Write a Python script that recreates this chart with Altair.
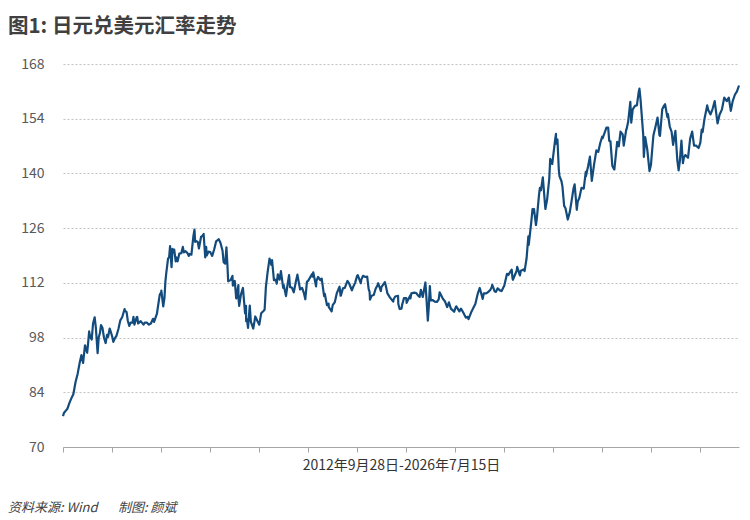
import altair as alt
import pandas as pd

title_text = "图1: 日元兑美元汇率走势"
axis_title = "2012年9月28日-2026年7月15日"
source_text = "资料来源: Wind"
maker_text = "制图: 颜斌"
y_ticks = [70, 84, 98, 112, 126, 140, 154, 168]
tick_years = list(range(2012, 2026))

usdjpy = [
    ("2012-09-28", 77.9), ("2012-10-05", 78.7), ("2012-10-19", 79.3), ("2012-10-31", 79.8),
    ("2012-11-15", 81.3), ("2012-11-30", 82.5), ("2012-12-14", 83.5), ("2012-12-31", 86.7),
    ("2013-01-15", 88.7), ("2013-01-31", 91.7), ("2013-02-12", 93.5), ("2013-02-25", 91.5),
    ("2013-02-28", 92.6), ("2013-03-11", 96.0), ("2013-03-27", 94.1), ("2013-04-04", 96.9),
    ("2013-04-11", 99.6), ("2013-04-18", 98.2), ("2013-04-30", 97.5), ("2013-05-10", 101.6),
    ("2013-05-22", 103.2), ("2013-05-31", 100.5), ("2013-06-13", 94.0), ("2013-06-21", 98.0),
    ("2013-06-30", 99.1), ("2013-07-08", 101.2), ("2013-07-19", 100.5), ("2013-07-31", 97.9),
    ("2013-08-12", 96.6), ("2013-08-22", 98.7), ("2013-08-30", 98.2), ("2013-09-11", 100.3),
    ("2013-09-19", 99.5), ("2013-09-30", 98.2), ("2013-10-08", 96.9), ("2013-10-22", 98.0),
    ("2013-10-31", 98.4), ("2013-11-15", 100.2), ("2013-11-29", 102.4), ("2013-12-13", 103.2),
    ("2013-12-31", 105.3),
    ("2014-01-02", 104.9), ("2014-01-15", 104.5), ("2014-01-24", 102.3), ("2014-02-04", 101.0),
    ("2014-02-14", 101.8), ("2014-02-28", 101.8), ("2014-03-07", 103.3), ("2014-03-14", 101.3),
    ("2014-03-31", 103.2), ("2014-04-04", 103.3), ("2014-04-11", 101.6), ("2014-04-30", 102.2),
    ("2014-05-21", 101.3), ("2014-05-30", 101.8), ("2014-06-16", 101.8), ("2014-06-30", 101.3),
    ("2014-07-15", 101.6), ("2014-07-31", 102.8), ("2014-08-08", 102.0), ("2014-08-29", 104.1),
    ("2014-09-19", 109.0), ("2014-09-30", 109.6), ("2014-10-01", 110.0), ("2014-10-15", 106.0),
    ("2014-10-24", 108.1), ("2014-10-31", 112.3), ("2014-11-07", 114.6), ("2014-11-20", 118.2),
    ("2014-11-28", 118.6), ("2014-12-05", 121.4), ("2014-12-16", 116.0), ("2014-12-23", 120.7),
    ("2014-12-31", 119.8),
    ("2015-01-05", 120.5), ("2015-01-16", 117.5), ("2015-01-22", 118.5), ("2015-01-30", 117.5),
    ("2015-02-12", 119.5), ("2015-02-27", 119.6), ("2015-03-10", 121.2), ("2015-03-18", 119.8),
    ("2015-03-31", 120.1), ("2015-04-14", 119.6), ("2015-04-24", 118.9), ("2015-04-30", 119.4),
    ("2015-05-13", 119.2), ("2015-05-28", 124.0), ("2015-06-05", 125.6), ("2015-06-10", 122.5),
    ("2015-06-19", 122.7), ("2015-06-30", 122.4), ("2015-07-08", 120.8), ("2015-07-24", 123.8),
    ("2015-07-31", 123.9), ("2015-08-12", 124.5), ("2015-08-24", 118.5), ("2015-08-31", 121.2),
    ("2015-09-04", 119.0), ("2015-09-18", 120.0), ("2015-09-30", 119.9), ("2015-10-15", 118.9),
    ("2015-10-30", 120.6), ("2015-11-13", 122.6), ("2015-11-30", 123.1), ("2015-12-02", 123.2),
    ("2015-12-16", 122.2), ("2015-12-31", 120.2),
    ("2016-01-08", 117.3), ("2016-01-20", 116.9), ("2016-01-29", 121.1), ("2016-02-05", 116.8),
    ("2016-02-11", 112.4), ("2016-02-29", 112.7), ("2016-03-14", 113.8), ("2016-03-17", 111.3),
    ("2016-03-31", 112.5), ("2016-04-11", 108.0), ("2016-04-27", 111.4), ("2016-04-28", 108.1),
    ("2016-05-03", 106.1), ("2016-05-16", 109.0), ("2016-05-31", 110.7), ("2016-06-16", 104.2),
    ("2016-06-23", 106.1), ("2016-06-24", 102.2), ("2016-06-30", 102.7), ("2016-07-08", 100.5),
    ("2016-07-21", 106.2), ("2016-07-29", 102.1), ("2016-08-16", 100.3), ("2016-08-31", 103.4),
    ("2016-09-15", 102.3), ("2016-09-30", 101.3), ("2016-10-14", 104.2), ("2016-10-31", 104.8),
    ("2016-11-08", 105.1), ("2016-11-09", 105.3), ("2016-11-18", 110.9), ("2016-11-30", 114.5),
    ("2016-12-15", 118.2), ("2016-12-29", 116.6), ("2016-12-30", 116.9),
    ("2017-01-03", 117.8), ("2017-01-17", 112.7), ("2017-01-31", 112.8), ("2017-02-07", 111.8),
    ("2017-02-15", 114.2), ("2017-02-28", 112.8), ("2017-03-10", 115.0), ("2017-03-27", 110.7),
    ("2017-03-31", 111.4), ("2017-04-17", 108.6), ("2017-04-28", 111.5), ("2017-05-10", 114.0),
    ("2017-05-17", 110.9), ("2017-05-31", 110.8), ("2017-06-14", 109.6), ("2017-06-30", 112.4),
    ("2017-07-11", 114.1), ("2017-07-31", 110.3), ("2017-08-15", 110.7), ("2017-08-29", 109.3),
    ("2017-09-08", 107.8), ("2017-09-20", 112.3), ("2017-09-29", 112.5), ("2017-10-27", 114.2),
    ("2017-10-31", 113.6), ("2017-11-06", 114.7), ("2017-11-27", 111.1), ("2017-11-30", 112.5),
    ("2017-12-12", 113.5), ("2017-12-29", 112.7),
    ("2018-01-08", 113.1), ("2018-01-26", 108.6), ("2018-01-31", 109.2), ("2018-02-16", 106.3),
    ("2018-02-28", 106.7), ("2018-03-02", 105.8), ("2018-03-23", 104.7), ("2018-03-31", 106.3),
    ("2018-04-16", 107.1), ("2018-04-30", 109.3), ("2018-05-21", 111.0), ("2018-05-29", 108.7),
    ("2018-05-31", 108.8), ("2018-06-15", 110.6), ("2018-06-29", 110.7), ("2018-07-19", 112.5),
    ("2018-07-31", 111.9), ("2018-08-21", 110.1), ("2018-08-31", 111.0), ("2018-09-14", 112.0),
    ("2018-09-28", 113.7), ("2018-10-04", 114.0), ("2018-10-26", 111.9), ("2018-10-31", 112.9),
    ("2018-11-12", 113.8), ("2018-11-30", 113.5), ("2018-12-13", 113.6), ("2018-12-24", 110.4),
    ("2018-12-31", 109.7),
    ("2019-01-03", 107.7), ("2019-01-15", 108.7), ("2019-01-31", 108.9), ("2019-02-14", 110.5),
    ("2019-02-28", 111.4), ("2019-03-05", 111.9), ("2019-03-25", 109.9), ("2019-03-29", 110.9),
    ("2019-04-24", 112.2), ("2019-04-30", 111.4), ("2019-05-13", 109.3), ("2019-05-31", 108.3),
    ("2019-06-25", 107.2), ("2019-06-28", 107.8), ("2019-07-10", 108.5), ("2019-07-31", 108.7),
    ("2019-08-02", 106.6), ("2019-08-12", 105.3), ("2019-08-26", 105.4), ("2019-08-30", 106.3),
    ("2019-09-13", 108.1), ("2019-09-30", 108.1), ("2019-10-03", 106.9), ("2019-10-30", 108.8),
    ("2019-10-31", 108.0), ("2019-11-07", 109.3), ("2019-11-29", 109.5), ("2019-12-13", 109.4),
    ("2019-12-31", 108.6),
    ("2020-01-08", 108.4), ("2020-01-17", 110.2), ("2020-01-31", 108.4), ("2020-02-20", 112.1),
    ("2020-02-28", 107.9), ("2020-03-09", 102.3), ("2020-03-16", 105.8), ("2020-03-24", 111.2),
    ("2020-03-31", 107.5), ("2020-04-15", 107.6), ("2020-04-30", 107.2), ("2020-05-15", 107.1),
    ("2020-05-29", 107.8), ("2020-06-05", 109.6), ("2020-06-30", 107.9), ("2020-07-14", 107.3),
    ("2020-07-31", 105.8), ("2020-08-13", 107.0), ("2020-08-28", 105.4), ("2020-09-21", 104.6),
    ("2020-09-30", 105.5), ("2020-10-07", 106.0), ("2020-10-30", 104.7), ("2020-11-11", 105.4),
    ("2020-11-30", 104.3), ("2020-12-17", 103.1), ("2020-12-31", 103.3),
    ("2021-01-06", 102.7), ("2021-01-29", 104.7), ("2021-02-17", 106.0), ("2021-02-26", 106.6),
    ("2021-03-15", 109.1), ("2021-03-31", 110.7), ("2021-04-22", 107.9), ("2021-04-30", 109.3),
    ("2021-05-17", 109.3), ("2021-05-31", 109.6), ("2021-06-18", 110.2), ("2021-06-30", 111.1),
    ("2021-07-02", 111.5), ("2021-07-20", 109.8), ("2021-07-30", 109.7), ("2021-08-11", 110.6),
    ("2021-08-31", 110.0), ("2021-09-10", 109.9), ("2021-09-30", 111.3), ("2021-10-20", 114.3),
    ("2021-10-29", 114.0), ("2021-11-24", 115.4), ("2021-11-30", 113.2), ("2021-12-03", 112.8),
    ("2021-12-31", 115.1),
    ("2022-01-04", 116.1), ("2022-01-24", 113.9), ("2022-01-31", 115.1), ("2022-02-24", 115.5),
    ("2022-02-28", 115.0), ("2022-03-15", 118.3), ("2022-03-28", 123.9), ("2022-03-31", 121.7),
    ("2022-04-20", 127.9), ("2022-04-28", 130.9), ("2022-04-29", 129.8), ("2022-05-09", 130.9),
    ("2022-05-24", 126.8), ("2022-05-31", 128.7), ("2022-06-15", 134.3), ("2022-06-22", 136.3),
    ("2022-06-30", 135.7), ("2022-07-14", 139.0), ("2022-08-02", 130.9), ("2022-08-15", 133.3),
    ("2022-08-31", 138.7), ("2022-09-07", 143.7), ("2022-09-22", 142.4), ("2022-09-30", 144.7),
    ("2022-10-14", 148.7), ("2022-10-20", 150.1), ("2022-10-21", 147.6), ("2022-10-31", 148.7),
    ("2022-11-10", 141.0), ("2022-11-15", 139.3), ("2022-11-30", 138.0), ("2022-12-07", 136.7),
    ("2022-12-20", 131.7), ("2022-12-30", 131.1),
    ("2023-01-16", 128.2), ("2023-01-31", 130.1), ("2023-02-14", 133.1), ("2023-02-28", 136.2),
    ("2023-03-08", 137.2), ("2023-03-24", 130.7), ("2023-03-31", 132.8), ("2023-04-12", 133.7),
    ("2023-04-28", 136.3), ("2023-05-15", 136.1), ("2023-05-30", 140.4), ("2023-05-31", 139.3),
    ("2023-06-16", 141.8), ("2023-06-30", 144.3), ("2023-07-14", 138.1), ("2023-07-31", 142.3),
    ("2023-08-17", 145.9), ("2023-08-31", 145.5), ("2023-09-15", 147.8), ("2023-09-29", 149.4),
    ("2023-10-03", 149.0), ("2023-10-31", 151.7), ("2023-11-13", 151.7), ("2023-11-21", 148.3),
    ("2023-11-30", 148.2), ("2023-12-14", 141.9), ("2023-12-28", 141.0), ("2023-12-29", 141.0),
    ("2024-01-19", 148.1), ("2024-01-31", 146.9), ("2024-02-13", 150.7), ("2024-02-29", 150.0),
    ("2024-03-08", 147.1), ("2024-03-27", 151.3), ("2024-03-29", 151.3), ("2024-04-10", 153.2),
    ("2024-04-26", 158.3), ("2024-04-29", 156.3), ("2024-05-03", 153.0), ("2024-05-14", 156.4),
    ("2024-05-31", 157.3), ("2024-06-14", 157.4), ("2024-06-28", 160.9), ("2024-07-03", 161.7),
    ("2024-07-11", 159.0), ("2024-07-31", 150.0), ("2024-08-05", 144.2), ("2024-08-15", 149.3),
    ("2024-08-30", 146.2), ("2024-09-16", 140.6), ("2024-09-27", 142.2), ("2024-09-30", 143.6),
    ("2024-10-15", 149.7), ("2024-10-31", 152.0), ("2024-11-15", 154.3), ("2024-11-29", 149.8),
    ("2024-12-03", 149.6), ("2024-12-20", 156.4), ("2024-12-31", 157.2),
    ("2025-01-10", 157.7), ("2025-01-27", 154.4), ("2025-01-31", 155.2), ("2025-02-14", 152.0),
    ("2025-02-28", 150.6), ("2025-03-11", 147.3), ("2025-03-28", 150.9), ("2025-04-11", 143.5),
    ("2025-04-21", 140.8), ("2025-04-30", 143.1), ("2025-05-12", 148.4), ("2025-05-23", 142.6),
    ("2025-05-30", 144.0), ("2025-06-10", 144.7), ("2025-06-30", 144.0), ("2025-07-16", 148.9),
    ("2025-07-31", 150.7), ("2025-08-14", 147.1), ("2025-08-29", 147.1), ("2025-09-17", 146.5),
    ("2025-09-30", 147.9), ("2025-10-10", 151.2), ("2025-10-17", 150.6), ("2025-10-31", 154.0),
    ("2025-11-20", 157.4), ("2025-11-28", 156.2), ("2025-12-15", 155.1), ("2025-12-31", 156.6),
    ("2026-01-15", 158.5), ("2026-02-05", 152.8), ("2026-02-20", 155.0), ("2026-03-10", 156.4),
    ("2026-03-27", 159.4), ("2026-04-15", 158.5), ("2026-04-30", 159.4), ("2026-05-15", 156.0),
    ("2026-05-29", 158.5), ("2026-06-15", 160.2), ("2026-06-30", 161.0), ("2026-07-15", 162.5),
]

df = pd.DataFrame(usdjpy, columns=["date", "rate"])

CJK = "Noto Sans CJK SC"
x_tick_values = [alt.DateTime(year=y, month=9, date=28, utc=True) for y in tick_years]
x_domain = [alt.DateTime(year=2012, month=9, date=28, utc=True),
            alt.DateTime(year=2026, month=7, date=15, utc=True)]

line = alt.Chart(df).mark_line(color="#134b7d", strokeWidth=2.2, strokeJoin="round").encode(
    x=alt.X("date:T",
            scale=alt.Scale(type="utc", domain=x_domain, nice=False),
            axis=alt.Axis(values=x_tick_values, labels=False, grid=False, ticks=True,
                          tickSize=5, tickColor="#a6a6a6", domainColor="#a6a6a6",
                          domainWidth=1, title=axis_title, titleFont=CJK,
                          titleFontSize=14, titleFontWeight="normal",
                          titleColor="#333333", titlePadding=6)),
    y=alt.Y("rate:Q",
            scale=alt.Scale(domain=[70, 168], nice=False, zero=False),
            axis=alt.Axis(values=y_ticks, grid=True, gridDash=[2, 2], gridColor="#c4c4c4",
                          gridWidth=1, domain=False, ticks=False, labelPadding=19,
                          labelFontSize=14, labelFont=CJK, labelColor="#595959",
                          title=None)),
)

one = pd.DataFrame({"k": [0]})
title = alt.Chart(one).mark_text(align="left", baseline="middle", fontSize=20.5,
                                 fontWeight="bold", font=CJK, color="#404040").encode(
    x=alt.value(-55), y=alt.value(-37), text=alt.value(title_text))
source = alt.Chart(one).mark_text(align="left", baseline="middle", fontSize=13,
                                  fontStyle="italic", font=CJK, color="#404040").encode(
    x=alt.value(-55), y=alt.value(444), text=alt.value(source_text))
maker = alt.Chart(one).mark_text(align="left", baseline="middle", fontSize=13,
                                 fontStyle="italic", font=CJK, color="#404040").encode(
    x=alt.value(55), y=alt.value(444), text=alt.value(maker_text))

chart = alt.layer(line, title, source, maker).properties(
    width=676, height=383,
    padding={"left": 0, "top": 9, "right": 0, "bottom": 0},
    background="white"
).configure_view(stroke=None)

chart.save("out.html", embed_options={"renderer": "svg", "actions": False})
